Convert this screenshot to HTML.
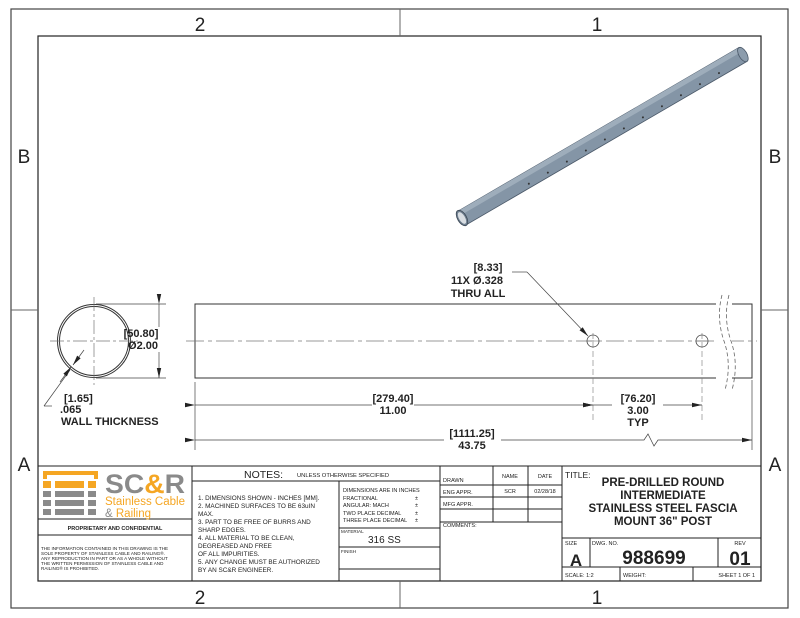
<!DOCTYPE html>
<html><head><meta charset="utf-8"><style>
html,body{margin:0;padding:0;background:#fff;}
svg{display:block;}
text{font-family:"Liberation Sans",sans-serif;fill:#222;}
</style></head><body>
<svg width="800" height="618" viewBox="0 0 800 618" xmlns="http://www.w3.org/2000/svg">
<defs>
<marker id="ar" markerWidth="10" markerHeight="6" refX="10" refY="3" orient="auto" markerUnits="userSpaceOnUse"><path d="M0,0.8 L10,3 L0,5.2z" fill="#222"/></marker>
</defs>
<rect x="11" y="9" width="777" height="599" fill="none" stroke="#444" stroke-width="1.2"/>
<rect x="38" y="36" width="723" height="545" fill="none" stroke="#222" stroke-width="1.2"/>
<g stroke="#666" stroke-width="1">
<line x1="400" y1="9" x2="400" y2="36"/><line x1="400" y1="581" x2="400" y2="608"/>
<line x1="11" y1="310" x2="38" y2="310"/><line x1="761" y1="310" x2="788" y2="310"/>
</g>
<g font-size="19">
<text x="200" y="31" text-anchor="middle">2</text><text x="597" y="31" text-anchor="middle">1</text>
<text x="200" y="604" text-anchor="middle">2</text><text x="597" y="604" text-anchor="middle">1</text>
<text x="24" y="163" text-anchor="middle">B</text><text x="775" y="163" text-anchor="middle">B</text>
<text x="24" y="471" text-anchor="middle">A</text><text x="775" y="471" text-anchor="middle">A</text>
</g>
<g transform="translate(462,218) rotate(-30.2)">
<rect x="0" y="-8" width="325" height="16" fill="#8495a6" stroke="#4a5868" stroke-width="0.8"/>
<rect x="0" y="-8" width="325" height="5" fill="#9eadbb"/>
<ellipse cx="325" cy="0" rx="4" ry="8" fill="#8c9cac" stroke="#4a5868" stroke-width="0.8"/>
<ellipse cx="0" cy="0" rx="4.5" ry="8.5" fill="#6f7f90" stroke="#3c4855" stroke-width="0.8"/>
<ellipse cx="0" cy="0" rx="3" ry="6.5" fill="#d8dde2"/>
<g fill="#333">
<circle cx="75" cy="4" r="1"/><circle cx="97" cy="4" r="1"/><circle cx="119" cy="4" r="1"/><circle cx="141" cy="4" r="1"/><circle cx="163" cy="4" r="1"/><circle cx="185" cy="4" r="1"/><circle cx="207" cy="4" r="1"/><circle cx="229" cy="4" r="1"/><circle cx="251" cy="4" r="1"/><circle cx="273" cy="4" r="1"/><circle cx="295" cy="4" r="1"/>
</g>
</g>
<circle cx="94" cy="341" r="36.5" fill="none" stroke="#333" stroke-width="1"/>
<circle cx="94" cy="341" r="34.5" fill="none" stroke="#333" stroke-width="1"/>
<g stroke="#777" stroke-width="0.7" stroke-dasharray="14,3,3,3">
<line x1="50" y1="341" x2="138" y2="341"/><line x1="94" y1="297" x2="94" y2="385"/>
</g>
<g stroke="#444" stroke-width="0.7">
<line x1="96" y1="304" x2="166" y2="304"/><line x1="96" y1="378" x2="166" y2="378"/>
<line x1="159" y1="304" x2="159" y2="327" marker-start="url(#ar)"/><line x1="159" y1="352" x2="159" y2="378" marker-end="url(#ar)"/>
<line x1="44" y1="406" x2="70" y2="370"/><line x1="44" y1="406" x2="52" y2="406"/>
<line x1="60" y1="382" x2="71" y2="367" marker-end="url(#ar)"/>
<line x1="84" y1="350" x2="73" y2="365" marker-end="url(#ar)"/>
</g>
<g font-size="11">
<text x="141" y="337" text-anchor="middle" font-weight="bold">[50.80]</text>
<text x="143" y="349" text-anchor="middle" font-weight="bold">Ø2.00</text>
<text x="64" y="402" font-weight="bold">[1.65]</text>
<text x="60" y="413" font-weight="bold">.065</text>
<text x="61" y="425" font-weight="bold">WALL THICKNESS</text>
</g>
<rect x="195" y="304" width="557" height="74" fill="none" stroke="#333" stroke-width="1"/>
<line x1="186" y1="341" x2="757" y2="341" stroke="#777" stroke-width="0.7" stroke-dasharray="18,4,4,4"/>
<rect x="716" y="295" width="16" height="92" fill="#fff"/>
<g fill="none" stroke="#666" stroke-width="0.8" stroke-dasharray="4,2.5">
<path d="M722,295 Q716,318 724,341 Q732,364 725,390"/>
<path d="M729,295 Q723,318 731,341 Q739,364 732,390"/>
</g>
<g stroke="#444" stroke-width="0.8" fill="none">
<circle cx="593" cy="341" r="6"/><circle cx="702" cy="341" r="6"/>
</g>
<g stroke="#777" stroke-width="0.6" stroke-dasharray="6,3">
<line x1="593" y1="333" x2="593" y2="422"/><line x1="702" y1="333" x2="702" y2="422"/>
</g>
<g stroke="#777" stroke-width="0.6"><line x1="586" y1="341" x2="600" y2="341"/><line x1="695" y1="341" x2="709" y2="341"/></g>
<g stroke="#444" stroke-width="0.7" fill="none">
<line x1="195" y1="382" x2="195" y2="450"/><line x1="752" y1="380" x2="752" y2="450"/>
<line x1="512" y1="272" x2="527" y2="272"/><line x1="527" y1="272" x2="588" y2="336" marker-end="url(#ar)"/>
<line x1="195" y1="405" x2="372" y2="405" marker-start="url(#ar)"/><line x1="414" y1="405" x2="593" y2="405" marker-end="url(#ar)"/>
<line x1="593" y1="405" x2="612" y2="405" marker-start="url(#ar)"/><line x1="663" y1="405" x2="702" y2="405" marker-end="url(#ar)"/>
<line x1="195" y1="440" x2="444" y2="440" marker-start="url(#ar)"/>
<path d="M501,440 L644,440 L648,434 L654,446 L658,440 L752,440" marker-end="url(#ar)"/>
</g>
<g font-size="11" text-anchor="middle">
<text x="488" y="271" font-weight="bold">[8.33]</text>
<text x="477" y="284" font-weight="bold">11X Ø.328</text>
<text x="478" y="297" font-weight="bold">THRU ALL</text>
<text x="393" y="402" font-weight="bold">[279.40]</text>
<text x="393" y="414" font-weight="bold">11.00</text>
<text x="638" y="402" font-weight="bold">[76.20]</text>
<text x="638" y="414" font-weight="bold">3.00</text>
<text x="638" y="426" font-weight="bold">TYP</text>
<text x="472" y="437" font-weight="bold">[1111.25]</text>
<text x="472" y="449" font-weight="bold">43.75</text>
</g>
<g stroke="#222" stroke-width="1" fill="none">
<line x1="38" y1="466" x2="761" y2="466"/>
<line x1="192" y1="466" x2="192" y2="581"/>
<line x1="38" y1="519" x2="192" y2="519"/><line x1="38" y1="535" x2="192" y2="535"/>
<line x1="192" y1="481" x2="440" y2="481"/>
<line x1="339" y1="481" x2="339" y2="581"/>
<line x1="339" y1="528" x2="440" y2="528"/><line x1="339" y1="547" x2="440" y2="547"/><line x1="339" y1="569" x2="440" y2="569"/>
<line x1="440" y1="466" x2="440" y2="581"/>
<line x1="493" y1="466" x2="493" y2="522"/><line x1="528" y1="466" x2="528" y2="522"/>
<line x1="440" y1="485" x2="562" y2="485"/><line x1="440" y1="497" x2="562" y2="497"/><line x1="440" y1="509" x2="562" y2="509"/><line x1="440" y1="522" x2="562" y2="522"/>
<line x1="562" y1="466" x2="562" y2="581"/>
<line x1="562" y1="538" x2="761" y2="538"/><line x1="562" y1="567" x2="761" y2="567"/>
<line x1="590" y1="538" x2="590" y2="567"/><line x1="718" y1="538" x2="718" y2="567"/>
<line x1="620" y1="567" x2="620" y2="581"/><line x1="693" y1="567" x2="693" y2="581"/>
</g>
<g fill="#f5a623">
<rect x="43" y="471" width="55" height="4"/><rect x="43" y="471" width="4" height="8"/><rect x="94" y="471" width="4" height="8"/>
<rect x="43" y="481" width="8" height="7"/><rect x="55" y="481" width="29" height="7"/><rect x="88" y="481" width="8" height="7"/>
</g>
<g fill="#8a8a8a">
<rect x="43" y="491" width="8" height="6"/><rect x="55" y="491" width="29" height="6"/><rect x="88" y="491" width="8" height="6"/>
<rect x="43" y="500" width="8" height="6"/><rect x="55" y="500" width="29" height="6"/><rect x="88" y="500" width="8" height="6"/>
<rect x="43" y="509" width="8" height="6"/><rect x="55" y="509" width="29" height="6"/><rect x="88" y="509" width="8" height="6"/>
</g>
<text x="105" y="493" font-size="27" font-weight="bold" textLength="80" lengthAdjust="spacingAndGlyphs" style="fill:#8a8a8a">SC<tspan style="fill:#f5a623">&amp;</tspan>R</text>
<text x="105" y="505" font-size="11.5" textLength="80" lengthAdjust="spacingAndGlyphs" style="fill:#f5a623">Stainless Cable</text>
<text x="105" y="517" font-size="11.5" style="fill:#8a8a8a">&amp; <tspan style="fill:#f5a623">Railing</tspan></text>
<text x="115" y="530" font-size="5.5" font-weight="bold" text-anchor="middle">PROPRIETARY AND CONFIDENTIAL</text>
<g font-size="4.6">
<text x="41" y="550">THE INFORMATION CONTAINED IN THIS DRAWING IS THE</text>
<text x="41" y="555">SOLE PROPERTY OF STAINLESS CABLE AND RAILING®.</text>
<text x="41" y="560">ANY REPRODUCTION IN PART OR AS A WHOLE WITHOUT</text>
<text x="41" y="565">THE WRITTEN PERMISSION OF STAINLESS CABLE AND</text>
<text x="41" y="570">RAILING® IS PROHIBITED.</text>
</g>
<text x="244" y="478" font-size="10.5">NOTES:</text>
<text x="297" y="477" font-size="5.8">UNLESS OTHERWISE SPECIFIED</text>
<g font-size="6.4">
<text x="198" y="500">1. DIMENSIONS SHOWN - INCHES [MM].</text>
<text x="198" y="508">2. MACHINED SURFACES TO BE 63uIN</text>
<text x="198" y="516">MAX.</text>
<text x="198" y="524">3. PART TO BE FREE OF BURRS AND</text>
<text x="198" y="532">SHARP EDGES.</text>
<text x="198" y="540">4. ALL MATERIAL TO BE CLEAN,</text>
<text x="198" y="548">DEGREASED AND FREE</text>
<text x="198" y="556">OF ALL IMPURITIES.</text>
<text x="198" y="564">5. ANY CHANGE MUST BE AUTHORIZED</text>
<text x="198" y="572">BY AN SC&amp;R ENGINEER.</text>
</g>
<g font-size="5.5">
<text x="343" y="492">DIMENSIONS ARE IN INCHES</text>
<text x="343" y="500">FRACTIONAL</text><text x="415" y="500">±</text>
<text x="343" y="507">ANGULAR: MACH</text><text x="415" y="507">±</text>
<text x="343" y="515">TWO PLACE DECIMAL</text><text x="415" y="515">±</text>
<text x="343" y="522">THREE PLACE DECIMAL</text><text x="415" y="522">±</text>
<text x="341" y="533" font-size="4.6">MATERIAL</text>
<text x="341" y="553" font-size="4.6">FINISH</text>
<text x="443" y="482">DRAWN</text>
<text x="443" y="494">ENG APPR.</text>
<text x="443" y="506">MFG APPR.</text>
<text x="443" y="527">COMMENTS:</text>
<text x="510" y="478" text-anchor="middle">NAME</text>
<text x="545" y="478" text-anchor="middle">DATE</text>
<text x="510" y="493" text-anchor="middle">SCR</text>
<text x="545" y="493" text-anchor="middle">02/28/18</text>
<text x="565" y="545">SIZE</text>
<text x="592" y="545">DWG.  NO.</text>
<text x="740" y="545" text-anchor="middle">REV</text>
<text x="565" y="577">SCALE: 1:2</text>
<text x="623" y="577">WEIGHT:</text>
<text x="755" y="577" text-anchor="end">SHEET 1 OF 1</text>
</g>
<text x="368" y="543" font-size="10">316 SS</text>
<text x="565" y="478" font-size="8.5">TITLE:</text>
<g font-size="11.5" font-weight="bold" text-anchor="middle">
<text x="663" y="486">PRE-DRILLED ROUND</text>
<text x="663" y="499">INTERMEDIATE</text>
<text x="663" y="512">STAINLESS STEEL FASCIA</text>
<text x="663" y="525">MOUNT 36" POST</text>
</g>
<text x="576" y="566" font-size="17" font-weight="bold" text-anchor="middle">A</text>
<text x="654" y="564" font-size="19" font-weight="bold" text-anchor="middle">988699</text>
<text x="740" y="565" font-size="19" font-weight="bold" text-anchor="middle">01</text>
</svg>
</body></html>
